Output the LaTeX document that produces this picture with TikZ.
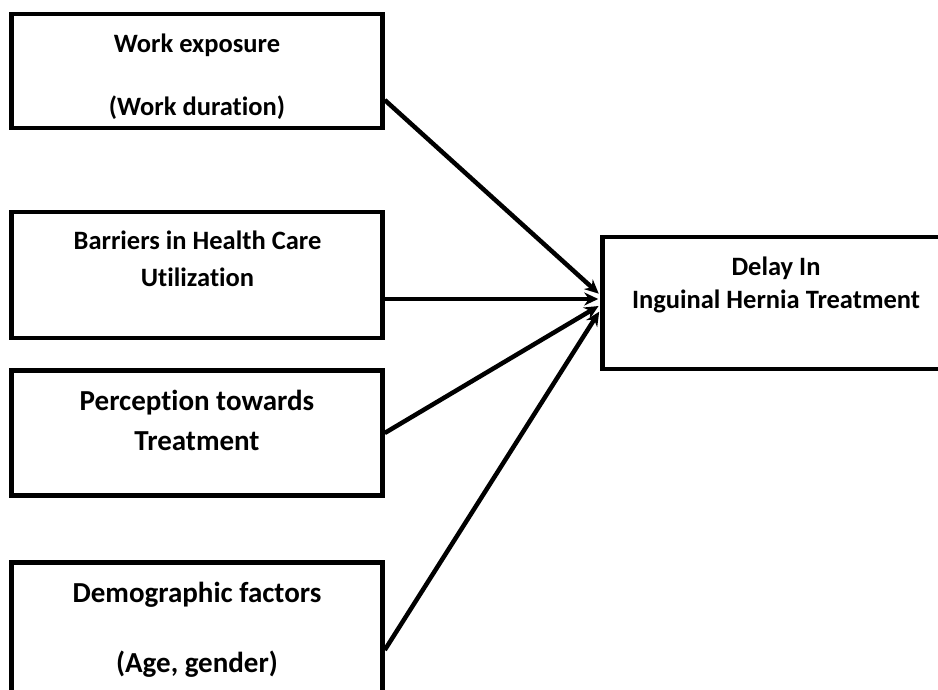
\documentclass[tikz,border=0pt]{standalone}
\usepackage{fontspec}
\setmainfont{Carlito}[Ligatures=NoCommon]
\usetikzlibrary{arrows.meta}
\tikzset{
  box/.style={draw=black, line width=4.5pt, fill=white, inner sep=0pt, minimum width=371pt},
  txtA/.style={font=\fontsize{26.5}{32}\selectfont\bfseries, anchor=base, inner sep=0pt},
  txtB/.style={font=\fontsize{29}{35}\selectfont\bfseries, anchor=base, inner sep=0pt},
  conn/.style={line width=4.5pt, -{Stealth[length=14pt,width=13pt]}, shorten >=2pt}
}
\begin{document}
\begin{tikzpicture}[x=1pt,y=-1pt]
\clip (0,0) rectangle (938,689);
\fill[white] (0,0) rectangle (938,689);
% boxes
\node[box, minimum height=114pt] (b1) at (197,71) {};
\node[box, minimum height=126pt] (b2) at (197,275) {};
\node[box, minimum height=125pt] (b3) at (197,433) {};
\node[box, minimum height=160pt] (b4) at (197,642.5) {};
\node[box, minimum width=380pt, minimum height=132pt] (r) at (792.5,303) {};
% texts
\node[txtA] (t1a) at (197,52) {Work exposure};
\node[txtA] (t1b) at (197,115) {(Work duration)};
\node[txtA] (t2a) at (197.5,249) {Barriers in Health Care};
\node[txtA] (t2b) at (197.5,286) {Utilization};
\node[txtB] (t3a) at (197,410) {Perception towards};
\node[txtB] (t3b) at (197,450) {Treatment};
\node[txtB] (t4a) at (197,602) {Demographic factors};
\node[txtB] (t4b) at (197,672) {(Age, gender)};
\node[txtA] (tra) at (776,275) {Delay In};
\node[txtA] (trb) at (776,308) {Inguinal Hernia Treatment};
% connectors
\draw[conn] ([yshift=-29pt]b1.east) -- ([yshift=8pt]r.west);
\draw[conn] ([yshift=-24pt]b2.east) -- ([yshift=4pt]r.west);
\draw[conn] (b3.east) -- ([yshift=-2pt]r.west);
\draw[conn] ([yshift=-7.5pt]b4.east) -- ([yshift=-7pt]r.west);
\end{tikzpicture}
\end{document}
